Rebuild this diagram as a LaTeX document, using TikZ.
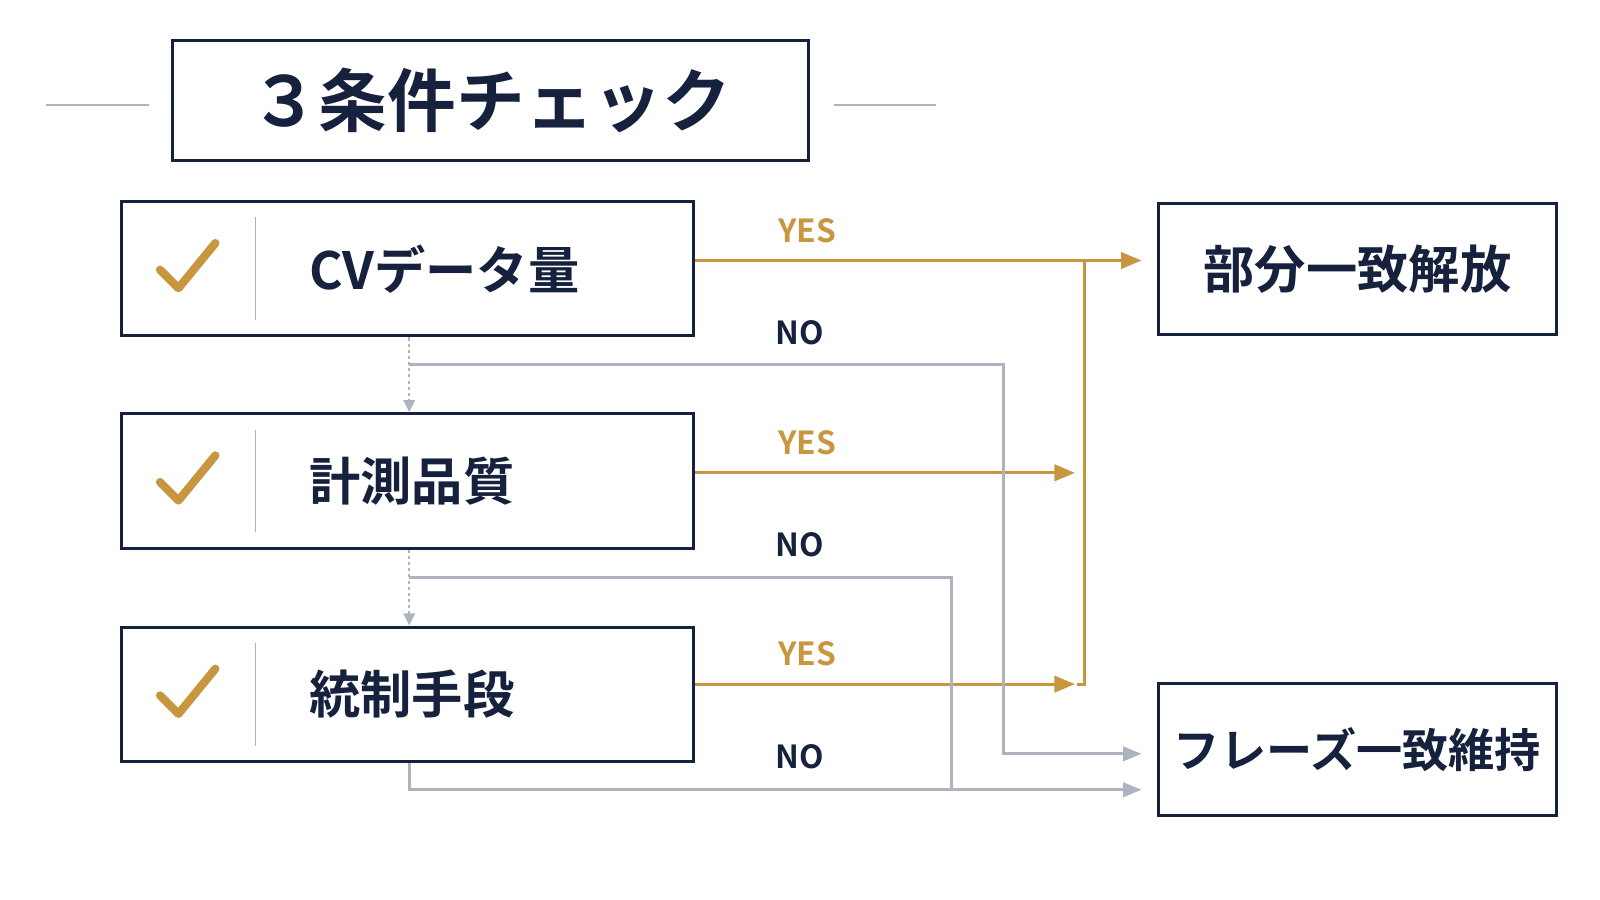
\documentclass[tikz,border=0pt]{standalone}
\usepackage{fontspec}
\setmainfont{Noto Sans CJK JP}[BoldFont={* Bold}]
\usetikzlibrary{positioning,arrows.meta,calc}
\definecolor{navy}{HTML}{16213E}
\definecolor{gold}{HTML}{C8963E}
\definecolor{lgray}{HTML}{AEB4BF}
\tikzset{
  box/.style={draw=navy, line width=3pt, fill=white, inner sep=0pt},
  yesline/.style={draw=gold, line width=2.8pt, -{Triangle[length=20pt,width=16pt,open,fill=gold]}},
  noline/.style={draw=lgray, line width=2.8pt, -{Triangle[length=18pt,width=14pt]}},
  lbl/.style={font=\bfseries\fontsize{31}{31}\selectfont},
  big/.style={font=\bfseries\fontsize{50}{50}\selectfont, text=navy},
}
\newcommand{\checkmk}[1]{\draw[gold, line width=8pt, line cap=round, line join=round]
  ($(#1)+(-27,1)$) -- ($(#1)+(-9,19)$) -- ($(#1)+(27,-25)$);}
\begin{document}
\begin{tikzpicture}[x=1pt,y=-1pt]
  \useasboundingbox[fill=white] (0,0) rectangle (1560,877.5);

  % title
  \node[box, minimum width=620, minimum height=117, anchor=north west,
        font=\bfseries\fontsize{67}{67}\selectfont, text=navy] (title) at (167,38) {３条件チェック};
  \draw[lgray, line width=2pt] (45,102) -- (145,102);
  \draw[lgray, line width=2pt] (813,102) -- (913,102);

  % checks
  \foreach \n/\y/\t in {a/195/CVデータ量, b/402/計測品質, c/610/統制手段}{
    \node[box, minimum width=558, minimum height=131, anchor=north west] (\n) at (117,\y) {};
    \node[big, anchor=west] (\n t) at (298,\y+67) {\t};
    \draw[lgray, line width=1.5pt] (249,\y+17) -- (249,\y+117);
    \coordinate (\n c) at (183,\y+67);
    \checkmk{\n c}
  }

  % results
  \node[box, minimum width=388, minimum height=128, anchor=north west, big] (yes) at (1128,197) {部分一致解放};
  \node[box, minimum width=388, minimum height=129, anchor=north west, big,
        font=\bfseries\fontsize{45}{45}\selectfont] (no) at (1128,665) {フレーズ一致維持};

  % yes flow
  \coordinate (j1) at (1057,254);
  \coordinate (j3) at (1057,667);
  \draw[yesline] (a.east |- j1) -- (1113,254);
  \draw[gold, line width=2.8pt] (j1) -- (j3) -- (1050,667);
  \draw[yesline] (b.east |- 0,461) -- (1048,461);
  \draw[yesline] (c.east |- 0,667) -- (1048,667);
  \node[lbl, text=gold] (y1) at (787,225) {YES};
  \node[lbl, text=gold] (y2) at (787,432) {YES};
  \node[lbl, text=gold] (y3) at (787,637) {YES};

  % no flow
  \draw[lgray, line width=2.4pt, dashed, -{Triangle[length=12pt,width=11pt]}] (a.south -| 399,0) -- (b.north -| 399,0);
  \draw[lgray, line width=2.4pt, dashed, -{Triangle[length=12pt,width=11pt]}] (b.south -| 399,0) -- (c.north -| 399,0);
  \draw[noline] (399,355) -- (978,355) -- (978,735) -- (1113,735);
  \draw[lgray, line width=2.8pt] (399,563) -- (928,563) -- (928,770);
  \draw[noline] (c.south -| 399,0) -- (399,770) -- (1113,770);
  \node[lbl, text=navy] (n1) at (780,324) {NO};
  \node[lbl, text=navy] (n2) at (780,531) {NO};
  \node[lbl, text=navy] (n3) at (780,738) {NO};
\end{tikzpicture}
\end{document}
